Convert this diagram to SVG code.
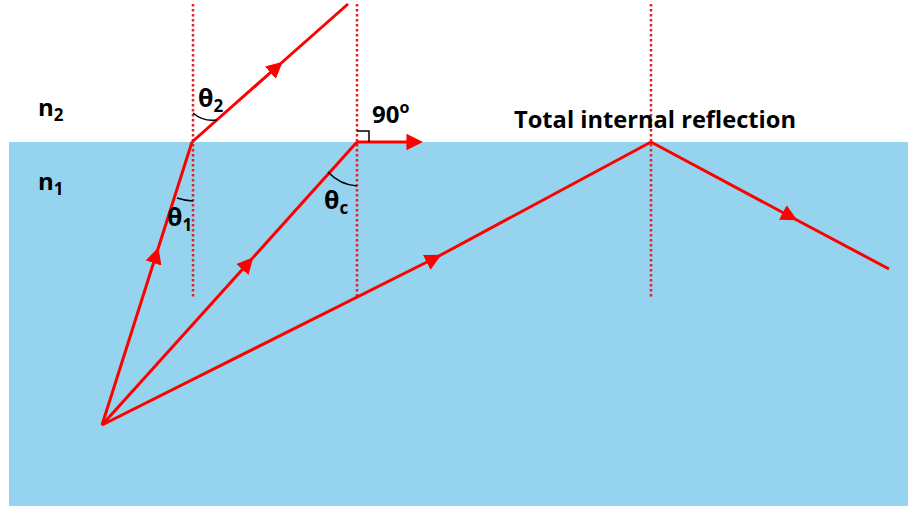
<svg xmlns="http://www.w3.org/2000/svg" width="908" height="506" viewBox="0 0 908 506">
<defs>
<style>
.ray{fill:none;stroke:#ff0000;stroke-width:3;stroke-linejoin:miter}
.dot{fill:none;stroke:#e4202a;stroke-width:2.5;stroke-dasharray:2.5 2.5}
.arc{fill:none;stroke:#000;stroke-width:1.5}
.t{font-family:"Open Sans","Liberation Sans",sans-serif;font-weight:bold;fill:#000}
</style>
<marker id="ah" viewBox="0 0 10 10" refX="7" refY="5" markerWidth="5.5" markerHeight="5.5" markerUnits="strokeWidth" orient="auto">
<path d="M0,0 L10,5 L0,10 z" fill="#ff0000"/>
</marker>
</defs>
<rect id="water" x="9" y="142" width="899" height="364" fill="#96d3ee"/>
<g id="normals">
<line class="dot" x1="193" y1="4" x2="193" y2="297"/>
<line class="dot" x1="357" y1="4" x2="357" y2="297"/>
<line class="dot" x1="651" y1="4" x2="651" y2="297"/>
</g>
<g id="connectors">
<polyline class="ray" points="102,425 157,252 192,142" marker-mid="url(#ah)"/>
<polyline class="ray" points="192,142 279,65 348,4" marker-mid="url(#ah)"/>
<polyline class="ray" points="102,425 250,261 357,142" marker-mid="url(#ah)"/>
<polyline class="ray" points="357,142 418,142" marker-end="url(#ah)"/>
<polyline class="ray" points="102,425 437,257 651,142" marker-mid="url(#ah)"/>
<polyline class="ray" points="651,142 793,218 889,269" marker-mid="url(#ah)"/>
</g>
<g id="angles">
<path class="arc" d="M193,113 A30,30 0 0 0 217,120"/>
<path class="arc" d="M177,198 A58,58 0 0 0 193,201"/>
<path class="arc" d="M328,172 A44,44 0 0 0 357,186"/>
<polyline class="arc" points="357,131 369,131 369,142"/>
</g>
<g id="labels">
<text class="t" x="38" y="116" font-size="24">n<tspan font-size="17" dy="5">2</tspan></text>
<text class="t" x="38" y="190" font-size="24">n<tspan font-size="17" dy="5">1</tspan></text>
<text class="t" x="198" y="107" font-size="25">θ<tspan font-size="17" dy="5">2</tspan></text>
<text class="t" x="167" y="226" font-size="25">θ<tspan font-size="17" dy="5">1</tspan></text>
<text class="t" x="324" y="209" font-size="25">θ<tspan font-size="17" dy="5">c</tspan></text>
<text class="t" x="372" y="123" font-size="24">90<tspan font-size="16" dy="-10">o</tspan></text>
<text class="t" x="514" y="128" font-size="24" textLength="282" lengthAdjust="spacingAndGlyphs">Total internal reflection</text>
</g>
</svg>
